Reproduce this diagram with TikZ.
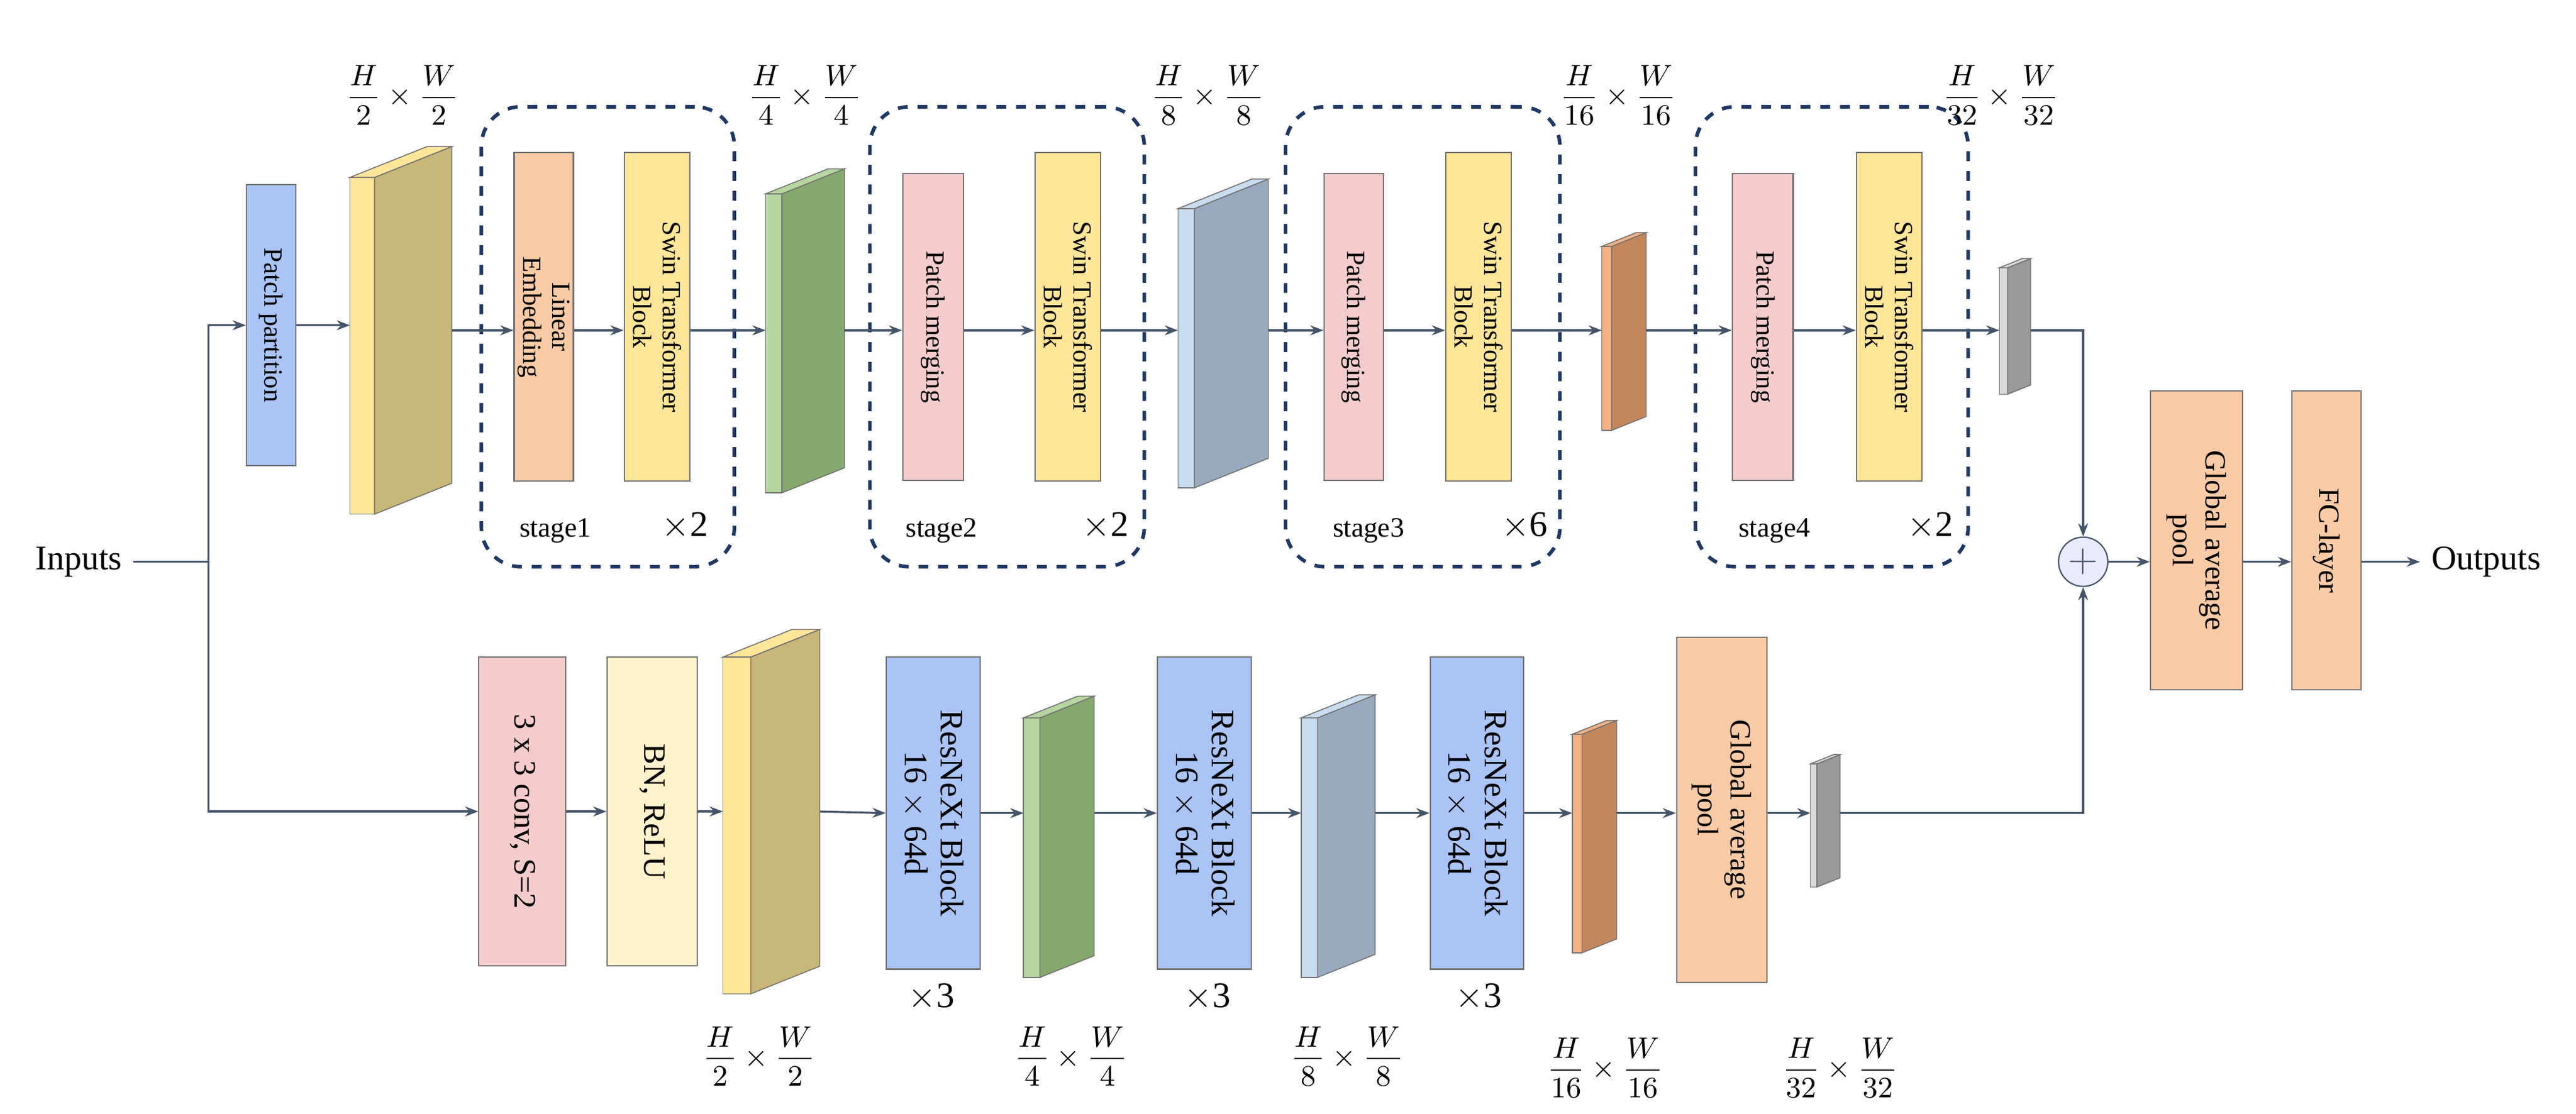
\documentclass[tikz,border=0pt]{standalone}
\usepackage{amsmath}
\usepackage{fontspec}
\setmainfont{Liberation Serif}
\usetikzlibrary{positioning}
\usetikzlibrary{arrows.meta}
\usetikzlibrary{calc}

\definecolor{lnc}{HTML}{44546A}
\definecolor{dsh}{HTML}{1F3864}
\definecolor{cblue}{HTML}{A9C4F5}
\definecolor{cpink}{HTML}{F4CCCC}
\definecolor{corange}{HTML}{F8CBA6}
\definecolor{cyellow}{HTML}{FFE699}
\definecolor{ccream}{HTML}{FFF2CC}
\definecolor{yside}{HTML}{C9B77A}
\definecolor{gfront}{HTML}{B5D6A0}
\definecolor{gside}{HTML}{84A96E}
\definecolor{bfront}{HTML}{C9DDF0}
\definecolor{bside}{HTML}{98AABF}
\definecolor{ofront}{HTML}{F4B183}
\definecolor{oside}{HTML}{C3865C}
\definecolor{kfront}{HTML}{D9D9D9}
\definecolor{kside}{HTML}{9A9A9A}

% feature map: name, x, ytop, ybot, width, depth, front, side
\newcommand{\featmap}[8]{%
  \node[fm, fill=#7, minimum width=#5*0.5pt, minimum height=(#4-#3)*0.5pt] (#1) at (#2+#5/2,{(#3+#4)/2}) {};
  \fill[#8, draw=black!55, line width=0.3pt] (#1.north east) -- ++(#6,-#6*0.4) -- ++(0,#4-#3) -- (#1.south east) -- cycle;
  \fill[#7, draw=black!55, line width=0.3pt] (#1.north west) -- ++(#6,-#6*0.4) -- ++(#5,0) -- (#1.north east) -- cycle;
  \coordinate (#1o) at ($(#1.east)+(#6,-#6*0.2)$);
}

\begin{document}
\begin{tikzpicture}[
        x=0.5pt, y=-0.5pt,
        blk/.style = {
            draw=black!55,
            line width=0.4pt,
            rotate=-90,
            align=center,
            inner sep=1pt,
            font=\fontsize{8}{9}\selectfont
        },
        fm/.style = {draw=black!55, line width=0.3pt, inner sep=0pt, outer sep=0pt},
        stg/.style = {draw=dsh, dashed, line width=1.1pt, rounded corners=12pt},
        arr/.style = {-{Stealth[length=4pt]}, lnc, line width=0.6pt},
        ln/.style = {lnc, line width=0.6pt},
        dim/.style = {font=\fontsize{9}{10}\selectfont}
        ]
        \useasboundingbox (0,0) rectangle (1568,678);
%
        \node[font=\fontsize{10.5}{12}\selectfont] (in) at (48,342) {Inputs};
        \coordinate (j) at (127,342);
%
        % top branch
        \node[blk, fill=cblue, minimum width=85.5pt, minimum height=15pt] (pp) at (165,198) {Patch partition};
        \featmap{s1}{213}{108}{313}{15}{47}{cyellow}{yside}
        \node[dim] at (245,58) {$\dfrac{H}{2}\times\dfrac{W}{2}$};
%
        \node[stg, minimum width=77pt, minimum height=140pt] (st1) at (370,205) {};
        \node[blk, fill=corange, minimum width=100pt, minimum height=18pt] (le) at (331,193) {Linear\\Embedding};
        \node[blk, fill=cyellow, minimum width=100pt, minimum height=20pt] (sw1) at (400,193) {Swin Transformer\\Block};
        \node[font=\fontsize{8.5}{10}\selectfont] at (338,323) {stage1};
        \node[font=\fontsize{11}{12}\selectfont] at (417,320) {$\times$2};
%
        \featmap{s2}{466}{118}{300}{10}{38}{gfront}{gside}
        \node[dim] at (490,58) {$\dfrac{H}{4}\times\dfrac{W}{4}$};
%
        \node[stg, minimum width=83.5pt, minimum height=140pt] (st2) at (613,205) {};
        \node[blk, fill=cpink, minimum width=93.5pt, minimum height=18.5pt] (pm2) at (568,199) {Patch merging};
        \node[blk, fill=cyellow, minimum width=100pt, minimum height=20pt] (sw2) at (650,193) {Swin Transformer\\Block};
        \node[font=\fontsize{8.5}{10}\selectfont] at (573,323) {stage2};
        \node[font=\fontsize{11}{12}\selectfont] at (673,320) {$\times$2};
%
        \featmap{s3}{717}{127}{297}{10}{45}{bfront}{bside}
        \node[dim] at (735,58) {$\dfrac{H}{8}\times\dfrac{W}{8}$};
%
        \node[stg, minimum width=83.5pt, minimum height=140pt] (st3) at (866,205) {};
        \node[blk, fill=cpink, minimum width=93.5pt, minimum height=18pt] (pm3) at (824,199) {Patch merging};
        \node[blk, fill=cyellow, minimum width=100pt, minimum height=20pt] (sw3) at (900,193) {Swin Transformer\\Block};
        \node[font=\fontsize{8.5}{10}\selectfont] at (833,323) {stage3};
        \node[font=\fontsize{11}{12}\selectfont] at (928,320) {$\times$6};
%
        \featmap{s4}{975}{150}{262}{6}{21}{ofront}{oside}
        \node[dim] at (985,58) {$\dfrac{H}{16}\times\dfrac{W}{16}$};
%
        \node[stg, minimum width=83pt, minimum height=140pt] (st4) at (1115,205) {};
        \node[blk, fill=cpink, minimum width=93.5pt, minimum height=18.5pt] (pm4) at (1073,199) {Patch merging};
        \node[blk, fill=cyellow, minimum width=100pt, minimum height=20pt] (sw4) at (1150,193) {Swin Transformer\\Block};
        \node[font=\fontsize{8.5}{10}\selectfont] at (1080,323) {stage4};
        \node[font=\fontsize{11}{12}\selectfont] at (1175,320) {$\times$2};
%
        \featmap{s5}{1217}{163}{240}{5}{14}{kfront}{kside}
        \node[dim] at (1218,58) {$\dfrac{H}{32}\times\dfrac{W}{32}$};
%
        % fusion
        \node[draw=lnc, circle, fill=blue!8, text=lnc, minimum size=15pt, inner sep=0pt, font=\large] (add) at (1268,342) {$+$};
        \node[blk, fill=corange, minimum width=91pt, minimum height=28pt, font=\fontsize{9}{10}\selectfont] (gap) at (1337,329) {Global average\\pool};
        \node[blk, fill=corange, minimum width=91pt, minimum height=21pt, font=\fontsize{9}{10}\selectfont] (fc) at (1416,329) {FC-layer};
        \node[font=\fontsize{10.5}{12}\selectfont, anchor=west] (out) at (1473,342) {Outputs};
%
        % bottom branch
        \node[blk, fill=cpink, minimum width=94pt, minimum height=26.5pt, font=\fontsize{9.5}{11}\selectfont] (cv) at (318,494) {3 x 3 conv, S=2};
        \node[blk, fill=ccream, minimum width=94pt, minimum height=27.5pt, font=\fontsize{9.5}{11}\selectfont] (bn) at (397,494) {BN, ReLU};
        \featmap{b1}{440}{400}{605}{17}{42}{cyellow}{yside}
        \node[dim] at (462,643) {$\dfrac{H}{2}\times\dfrac{W}{2}$};
%
        \node[blk, fill=cblue, minimum width=95pt, minimum height=28.5pt, font=\fontsize{10}{11}\selectfont] (rx1) at (568,495) {ResNeXt Block\\16 $\times$ 64d};
        \node[font=\fontsize{11}{12}\selectfont] at (567,607) {$\times$3};
        \featmap{b2}{623}{437}{595}{10}{33}{gfront}{gside}
        \node[dim] at (652,643) {$\dfrac{H}{4}\times\dfrac{W}{4}$};
%
        \node[blk, fill=cblue, minimum width=95pt, minimum height=28.5pt, font=\fontsize{10}{11}\selectfont] (rx2) at (733,495) {ResNeXt Block\\16 $\times$ 64d};
        \node[font=\fontsize{11}{12}\selectfont] at (735,607) {$\times$3};
        \featmap{b3}{792}{437}{595}{10}{35}{bfront}{bside}
        \node[dim] at (820,643) {$\dfrac{H}{8}\times\dfrac{W}{8}$};
%
        \node[blk, fill=cblue, minimum width=95pt, minimum height=28.5pt, font=\fontsize{10}{11}\selectfont] (rx3) at (899,495) {ResNeXt Block\\16 $\times$ 64d};
        \node[font=\fontsize{11}{12}\selectfont] at (900,607) {$\times$3};
        \featmap{b4}{957}{447}{580}{6}{21}{ofront}{oside}
        \node[dim] at (977,650) {$\dfrac{H}{16}\times\dfrac{W}{16}$};
%
        \node[blk, fill=corange, minimum width=105pt, minimum height=27.5pt, font=\fontsize{9}{10}\selectfont] (gp2) at (1048,493) {Global average\\pool};
        \featmap{b5}{1102}{465}{540}{4}{14}{kfront}{kside}
        \node[dim] at (1120,650) {$\dfrac{H}{32}\times\dfrac{W}{32}$};
%
        % connectors
        \draw[ln] (in) -- (j);
        \draw[arr] (j) |- (pp.south);
        \draw[arr] (j) |- (cv.south);
        \draw[arr] (pp.north) -- (s1.west |- pp.north);
        \draw[arr] (s1o) -- (le.south |- s1o);
        \draw[arr] (le.north |- s1o) -- (sw1.south |- s1o);
        \draw[arr] (sw1.north |- s1o) -- (s2.west |- s1o);
        \draw[arr] (s2o |- s1o) -- (pm2.south |- s1o);
        \draw[arr] (pm2.north |- s1o) -- (sw2.south |- s1o);
        \draw[arr] (sw2.north |- s1o) -- (s3.west |- s1o);
        \draw[arr] (s3o |- s1o) -- (pm3.south |- s1o);
        \draw[arr] (pm3.north |- s1o) -- (sw3.south |- s1o);
        \draw[arr] (sw3.north |- s1o) -- (s4.west |- s1o);
        \draw[arr] (s4o |- s1o) -- (pm4.south |- s1o);
        \draw[arr] (pm4.north |- s1o) -- (sw4.south |- s1o);
        \draw[arr] (sw4.north |- s1o) -- (s5.west |- s1o);
        \draw[arr] (s5o |- s1o) -| (add.north);
        \draw[arr] (add) -- (gap.south |- add);
        \draw[arr] (gap.north |- add) -- (fc.south |- add);
        \draw[arr] (fc.north |- add) -- (out);
%
        \draw[arr] (cv.north) -- (bn.south);
        \draw[arr] (bn.north) -- (b1.west |- bn.north);
        \draw[arr] (b1o |- bn.north) -- (rx1.south);
        \draw[arr] (rx1.north) -- (b2.west |- rx1.north);
        \draw[arr] (b2o |- rx1.north) -- (rx2.south);
        \draw[arr] (rx2.north) -- (b3.west |- rx2.north);
        \draw[arr] (b3o |- rx2.north) -- (rx3.south);
        \draw[arr] (rx3.north) -- (b4.west |- rx3.north);
        \draw[arr] (b4o |- rx3.north) -- (gp2.south |- rx3.north);
        \draw[arr] (gp2.north |- rx3.north) -- (b5.west |- rx3.north);
        \draw[arr] (b5o |- rx3.north) -| (add.south);
    \end{tikzpicture}
\end{document}
